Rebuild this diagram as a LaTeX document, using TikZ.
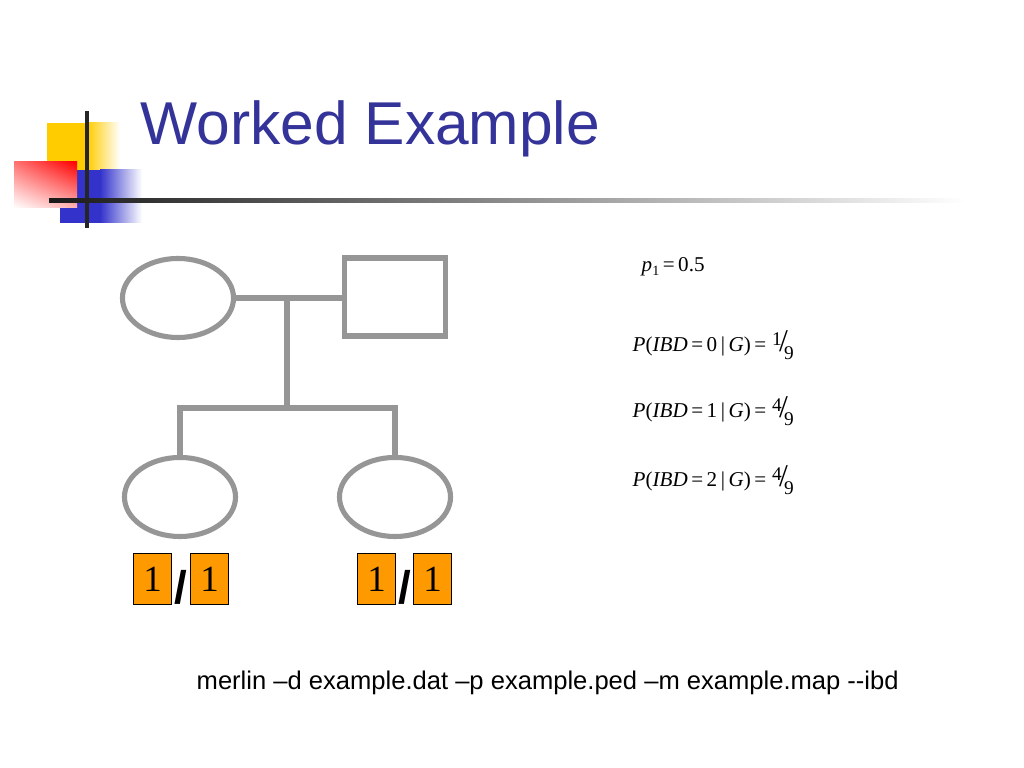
\documentclass[tikz,border=0pt]{standalone}
\usepackage{fontspec}
\setmainfont{Liberation Serif}
\setsansfont{Liberation Sans}
\usetikzlibrary{shapes.geometric, shadings}

\definecolor{titleblue}{RGB}{51,51,153}
\definecolor{pedgrey}{RGB}{150,150,150}
\definecolor{alleleorange}{RGB}{255,153,0}
\definecolor{logoyellow}{RGB}{255,204,0}
\definecolor{logoblue}{RGB}{51,51,204}

% slanted fraction as in the slide
\newcommand{\slantfrac}[2]{\raisebox{0.7ex}{\fontsize{5.5}{6}\selectfont#1}\kern-0.12em{\fontsize{9}{9}\selectfont/}\kern-0.18em\raisebox{-0.75ex}{\fontsize{5.5}{6}\selectfont#2}}

\begin{document}
\begin{tikzpicture}[x=0.01cm, y=-0.01cm,
    pedline/.style={draw=pedgrey, line width=1.45pt},
    allele/.style={draw=black, line width=0.4pt, fill=alleleorange, minimum width=0.38cm, minimum height=0.51cm, inner sep=0pt, font=\fontsize{10.5}{12}\selectfont},
    eqn/.style={anchor=base west, inner sep=0pt, font=\fontsize{6}{7}\selectfont}]

        \useasboundingbox (0,0) rectangle (1024,768);

        % Logo
        \fill[logoyellow] (47,123) rectangle (88,170);
        \shade[left color=logoyellow, right color=white] (87,123) rectangle (120,170);
        \fill[logoblue] (60,170) rectangle (101,223);
        \shade[left color=logoblue, right color=white] (100,170) rectangle (142,223);
        \shade[upper right=red, upper left=red!55, lower right=red!30, lower left=white] (14,162) rectangle (77,208);
        \fill[black!85] (85,111) rectangle (89,228);
        \shade[left color=black!90, right color=white] (49,199) rectangle (965,203);

        % Title
        \node[anchor=base west, inner sep=0pt, text=titleblue, font=\sffamily\fontsize{17.2}{19}\selectfont] (title) at (140,145) {Worked Example};

        % Parents
        \node[ellipse, pedline, inner sep=0pt, minimum width=1.11cm, minimum height=0.79cm] (mother) at (178,298) {};
        \node[rectangle, pedline, inner sep=0pt, minimum width=1.01cm, minimum height=0.78cm] (father) at (395,297) {};
        \draw[pedline] (mother.east) -- (mother.east -| father.west);

        % Children
        \node[ellipse, pedline, inner sep=0pt, minimum width=1.11cm, minimum height=0.79cm] (kidA) at (180,497) {};
        \node[ellipse, pedline, inner sep=0pt, minimum width=1.11cm, minimum height=0.79cm] (kidB) at (395,497) {};
        \coordinate (mate) at (287,298);
        \coordinate (sib) at (287,408);
        \coordinate (sibA) at (180,408);
        \coordinate (sibB) at (395,408);
        \draw[pedline] (mate) -- (sib);
        \draw[pedline, line cap=rect] (sibA) -- (sibB);
        \draw[pedline] (sibA) -- (kidA.north);
        \draw[pedline] (sibB) -- (kidB.north);

        % Genotypes
        \node[allele] (a1) at (152.5,579) {1};
        \node[allele] (a2) at (209.5,579) {1};
        \node[allele] (b1) at (376.5,579) {1};
        \node[allele] (b2) at (432.5,579) {1};
        \node[inner sep=0pt, font=\sffamily\bfseries\fontsize{13}{14}\selectfont] (slashA) at (181,587) {/};
        \node[inner sep=0pt, font=\sffamily\bfseries\fontsize{13}{14}\selectfont] (slashB) at (404.5,587) {/};

        % IBD probabilities
        \node[eqn] (freq) at (641,272) {\textit{p}\raisebox{-0.4ex}{\fontsize{4}{5}\selectfont 1}\,=\,0.5};
        \node[eqn] (ibd0) at (632,352) {\textit{P}(\textit{IBD}\,=\,0\,|\,\textit{G})\,=\;\slantfrac{1}{9}};
        \node[eqn] (ibd1) at (632,418) {\textit{P}(\textit{IBD}\,=\,1\,|\,\textit{G})\,=\;\slantfrac{4}{9}};
        \node[eqn] (ibd2) at (632,487) {\textit{P}(\textit{IBD}\,=\,2\,|\,\textit{G})\,=\;\slantfrac{4}{9}};

        % Command line
        \node[anchor=base west, inner sep=0pt, font=\sffamily\fontsize{7.27}{9}\selectfont] (cmd) at (196,690) {merlin –d example.dat –p example.ped –m example.map -{}-ibd};

    \end{tikzpicture}
\end{document}
